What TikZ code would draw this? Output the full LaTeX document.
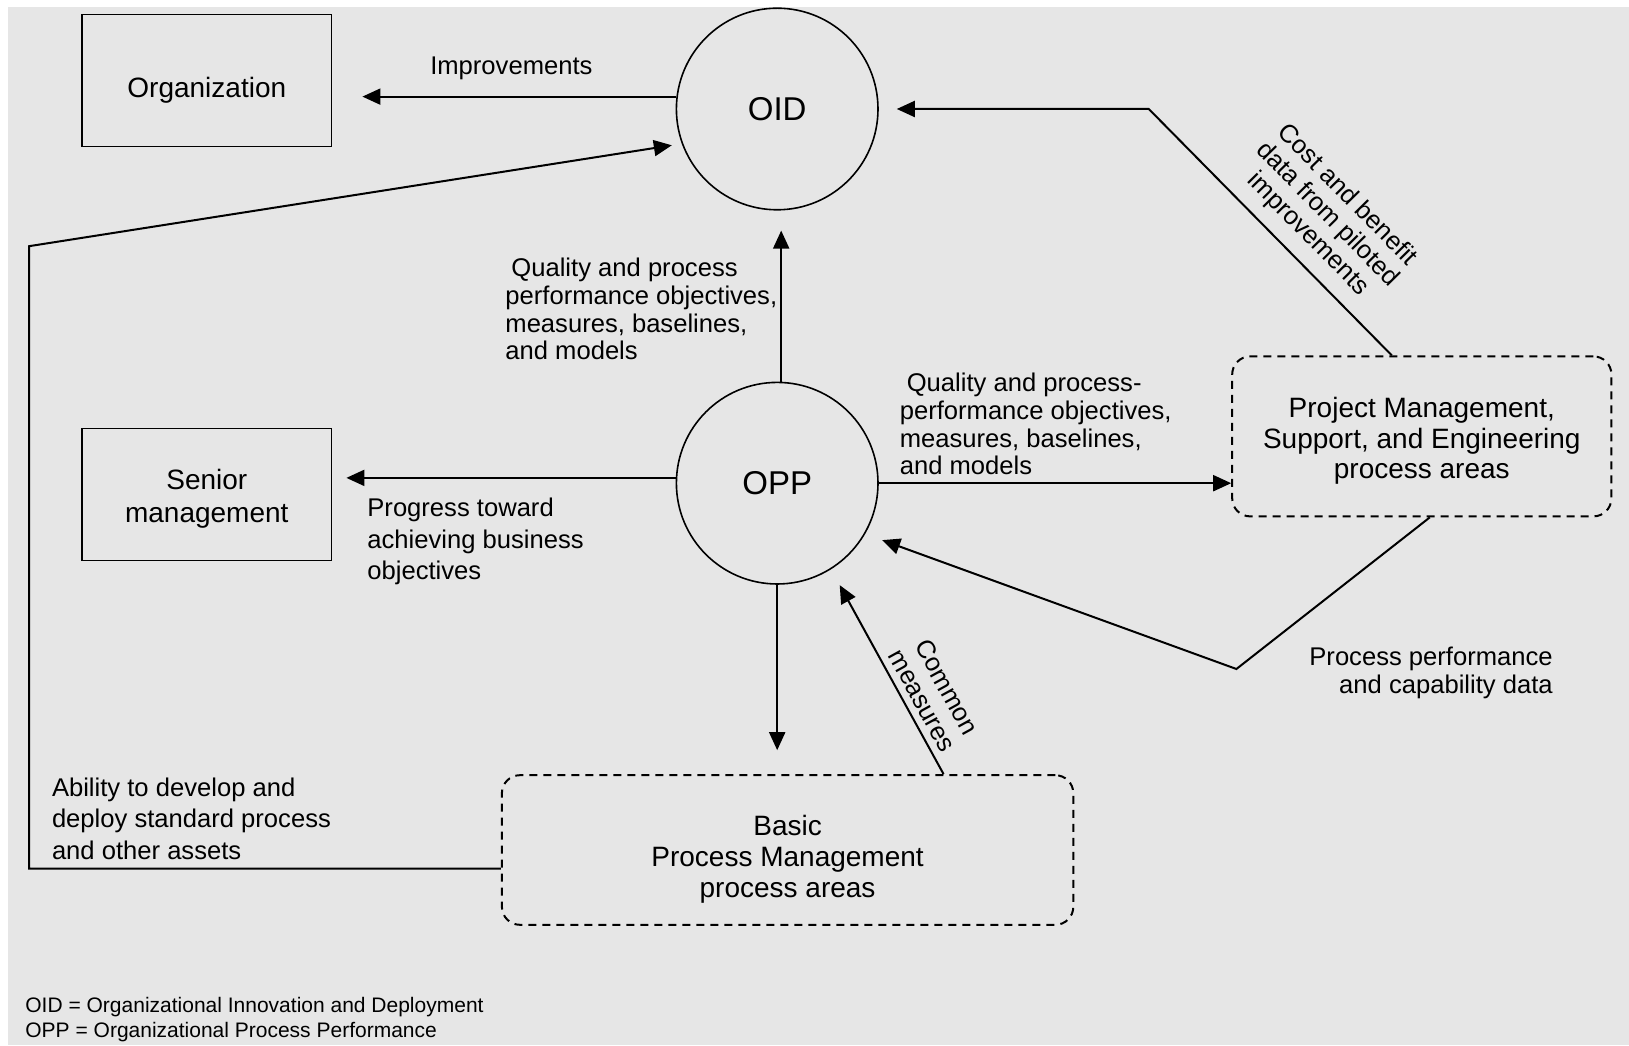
\documentclass[tikz,border=0pt]{standalone}
\usepackage{fontspec}
\setmainfont{Liberation Sans}
\usepackage{xcolor}
\usepackage{tikz}
\usetikzlibrary{
  positioning,
  arrows.meta,
  calc
}
\definecolor{sheet}{RGB}{230,230,230}
\newcommand{\dropto}[1]{\rule{0pt}{#1}}
\tikzset{
  >={Triangle[length=9pt,width=8pt]},
  flowarrow/.style={->,line width=1pt},
  entity/.style={rectangle,draw,line width=0.9pt,minimum width=124.7pt,minimum height=66pt,align=center,font=\fontsize{14}{16.6}\selectfont},
  process/.style={circle,draw,line width=0.8pt,minimum size=100.8pt,inner sep=0pt,font=\fontsize{16.5}{18}\selectfont},
  area/.style={rectangle,draw,dash pattern=on 4pt off 3pt,rounded corners=9pt,line width=1pt,align=center,font=\fontsize{14}{15.3}\selectfont},
  lbl/.style={align=left,inner sep=0pt,font=\fontsize{12.8}{13.9}\selectfont},
  widelbl/.style={lbl,font=\fontsize{12.8}{15.8}\selectfont}
}

\begin{document}
\begin{tikzpicture}[node distance=2cm, on grid]
    \useasboundingbox (0,0) rectangle (814.5pt,522.5pt);
    \fill[sheet] (4pt,0) rectangle (814.5pt,519pt);

    \node[process] (oid) at (388.6pt,468pt) {OID};
    \node[process,below=187.1pt of oid] (opp) {OPP};
    \node[entity,left=285.2pt of oid,yshift=14.2pt] (org) {\dropto{19.5pt}Organization};
    \node[entity,left=285.2pt of opp,yshift=-5.7pt] (senior) {\dropto{14pt}Senior\\management};
    \node[area,right=322.3pt of opp,yshift=23.4pt,minimum width=189.6pt,minimum height=80pt] (pmse) {\dropto{14.8pt}Project Management,\\Support, and Engineering\\process areas};
    \node[area,below=183.4pt of opp,xshift=5.2pt,minimum width=285.7pt,minimum height=74.8pt] (basic) {\dropto{19.5pt}Basic\\Process Management\\process areas};

    \coordinate (cbturn) at ($(oid.east)+(135pt,0)$);
    \coordinate (ppturn) at ($(pmse.south)+(-92.7pt,-75.8pt)$);
    \coordinate (abturn) at (14.5pt,399.4pt);

    \draw[flowarrow] (oid.173) -- ($(org.east |- oid.173)+(15pt,0)$) node[midway,above=8pt,xshift=-4pt,lbl] {Improvements};
    \draw[flowarrow] ($(opp.north)+(2pt,0)$) -- ($(oid.south)+(2pt,-10pt)$) node[midway,left=1.5pt,yshift=-1.5pt,lbl] {\hspace*{3pt}Quality and process\\performance objectives,\\measures, baselines,\\and models};
    \draw[flowarrow] (opp.177) -- ($(senior.east |- opp.177)+(7pt,0)$) node[pos=1,anchor=north west,xshift=10pt,yshift=-9.5pt,widelbl] {Progress toward\\achieving business\\objectives};
    \draw[flowarrow] (opp.east) -- (opp.east -| pmse.west) node[pos=0,anchor=south west,xshift=10pt,yshift=3.5pt,lbl] {\hspace*{3.5pt}Quality and process-\\performance objectives,\\measures, baselines,\\and models};
    \draw[flowarrow] ($(pmse.north)+(-15pt,0)$) -- node[pos=0.42,sloped,above=6pt,lbl,align=center] {Cost and benefit\\data from piloted\\improvements} (cbturn) -- ($(oid.east)+(9pt,0)$);
    \draw[flowarrow,shorten >=9pt] ($(pmse.south)+(4pt,0)$) -- (ppturn) node[right=36pt,yshift=-2pt,lbl,align=right] {Process performance\\and capability data} -- (opp.330);
    \draw[flowarrow] (opp.south) -- ($(opp.south |- basic.north)+(0,12pt)$);
    \draw[flowarrow,shorten >=9pt] ($(basic.north)+(78pt,0)$) -- node[pos=0.32,sloped,above=3.5pt,lbl,align=center] {Common\\measures} (opp.302);
    \draw[flowarrow,shorten >=5pt] ($(basic.west)+(0,-9.3pt)$) -| node[pos=0.5,anchor=south west,xshift=11pt,yshift=4pt,widelbl] {Ability to develop and\\deploy standard process\\and other assets} (abturn) -- (oid.200);

    \node[anchor=west,align=left,inner sep=0pt,font=\fontsize{10.5}{12.5}\selectfont] (legend) at (12.5pt,12.9pt) {OID = Organizational Innovation and Deployment\\OPP = Organizational Process Performance};
\end{tikzpicture}
\end{document}
